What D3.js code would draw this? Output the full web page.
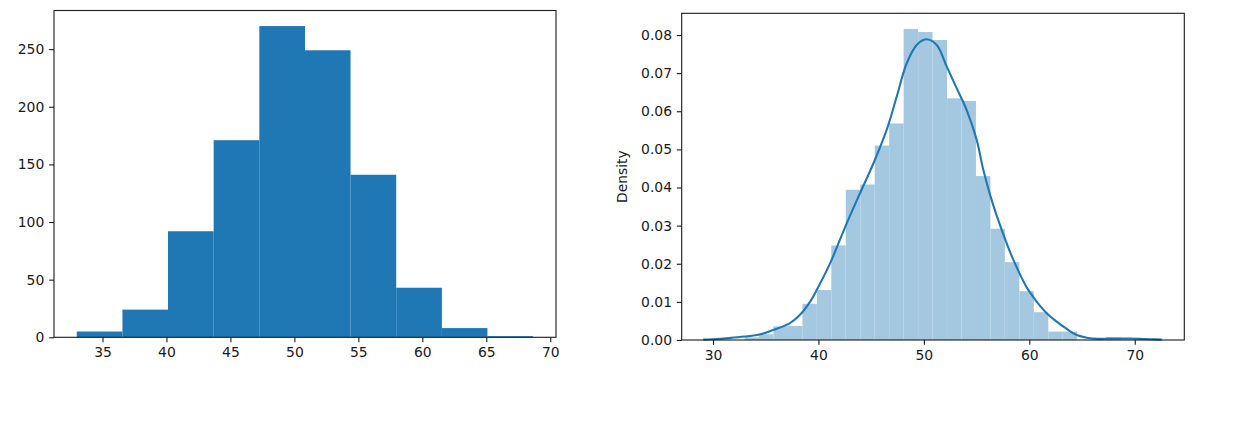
<!doctype html>
<html lang="en">
<head>
  <meta charset="utf-8">
  <script src="https://cdn.jsdelivr.net/npm/d3@7"></script>
</head>

<style>
    body {
        margin: 0;
        background-color: white;
        font-family: "DejaVu Sans", sans-serif;
    }
</style>

<body>
</body>

<script>

    // left: plain histogram, 10 bins
    const countEdges = [32.99, 36.56, 40.12, 43.69, 47.26, 50.83, 54.39, 57.96, 61.53, 65.09, 68.66]
    const counts = [5, 24, 92, 171, 270, 249, 141, 43, 8, 1]
    const countXTicks = [35, 40, 45, 50, 55, 60, 65, 70]
    const countYTicks = [0, 50, 100, 150, 200, 250]

    // right: density histogram (26 bins) + kde
    const densEdges = [32.99, 34.36, 35.73, 37.11, 38.48, 39.85, 41.22, 42.59, 43.97, 45.34, 46.71,
        48.08, 49.45, 50.82, 52.20, 53.57, 54.94, 56.31, 57.68, 59.06, 60.43, 61.80, 63.17,
        64.54, 65.91, 67.29, 68.66]
    const densities = [0.0007, 0.0015, 0.0036, 0.0037, 0.0095, 0.0131, 0.0248, 0.0394, 0.0408,
        0.0510, 0.0568, 0.0816, 0.0808, 0.0787, 0.0634, 0.0627, 0.0430, 0.0292, 0.0204,
        0.0128, 0.0073, 0.0022, 0.0022, 0, 0, 0.0007]
    const kdeX = [29.08, 30.0, 31.5, 33.0, 34.5, 35.7, 37.3, 38.25, 39.2, 39.83, 41.1, 42.68,
        43.94, 45.21, 46.47, 47.42, 48.37, 49.32, 50.2, 51.22, 52.17, 53.12, 54.06, 55.01,
        55.64, 56.43, 57.38, 58.49, 59.75, 60.5, 61.0, 61.65, 62.5, 63.55, 64.5, 65.45, 66.5,
        67.5, 68.5, 69.5, 70.5, 71.5, 72.56]
    const kdeY = [0.0001, 0.0002, 0.0005, 0.0009, 0.0015, 0.0026, 0.0044, 0.0066, 0.0100, 0.0131,
        0.0201, 0.0306, 0.0385, 0.0463, 0.0551, 0.0638, 0.0726, 0.0774, 0.0789, 0.0774,
        0.0717, 0.0660, 0.0603, 0.0525, 0.0446, 0.0367, 0.0289, 0.0210, 0.0138, 0.0108,
        0.0090, 0.0070, 0.0050, 0.0029, 0.0013, 0.0006, 0.0003, 0.0004, 0.0004, 0.0004,
        0.0003, 0.0002, 0.0001]
    const densXTicks = [30, 40, 50, 60, 70]
    const densYTicks = [0, 0.01, 0.02, 0.03, 0.04, 0.05, 0.06, 0.07, 0.08]

    const blue = '#1f77b4'
    const lightBlue = '#a5c8e1'
    const fontSize = 13.9     // 10pt at 100 dpi
    const tickLen = 4.86
    const spineW = 1.1
    const inkColor = '#1a1a1a'

    let svg = d3.select('body')
        .append('svg')
        .attr('width', 1248)
        .attr('height', 426)

    let drawAxes = (g, x, y, xTicks, yTicks, yFmt) => {
        let [x0, x1] = x.range()
        let [y0, y1] = y.range()

        g.append('g')
            .attr('transform', 'translate(0,' + y0 + ')')
            .call(d3.axisBottom(x).tickValues(xTicks).tickSize(tickLen).tickPadding(tickLen).tickFormat(d3.format('d')))
            .call(a => a.select('.domain').remove())

        g.append('g')
            .attr('transform', 'translate(' + x0 + ',0)')
            .call(d3.axisLeft(y).tickValues(yTicks).tickSize(tickLen).tickPadding(tickLen).tickFormat(yFmt))
            .call(a => a.select('.domain').remove())

        g.selectAll('.tick line').attr('stroke', inkColor).attr('stroke-width', spineW)
        g.selectAll('.tick text')
            .attr('font-family', '"DejaVu Sans", sans-serif')
            .attr('font-size', fontSize)
            .attr('fill', inkColor)

        g.append('rect')
            .attr('x', x0)
            .attr('y', y1)
            .attr('width', x1 - x0)
            .attr('height', y0 - y1)
            .attr('fill', 'none')
            .attr('stroke', inkColor)
            .attr('stroke-width', spineW)
    }

    // ---- left panel
    let xL = d3.scaleLinear().domain([31.21, 70.45]).range([54, 556])
    let yL = d3.scaleLinear().domain([0, 283.5]).range([337.3, 10.5])

    let left = svg.append('g')
    left.selectAll('.bar')
        .data(counts)
        .enter()
        .append('rect')
        .attr('class', 'bar')
        .attr('x', (d, i) => xL(countEdges[i]))
        .attr('width', (d, i) => xL(countEdges[i + 1]) - xL(countEdges[i]))
        .attr('y', d => yL(d))
        .attr('height', d => yL(0) - yL(d))
        .attr('fill', blue)

    drawAxes(left, xL, yL, countXTicks, countYTicks, d3.format('d'))

    // ---- right panel
    let xR = d3.scaleLinear().domain([27.03, 74.70]).range([681.7, 1184.3])
    let yR = d3.scaleLinear().domain([0, 0.0857]).range([340, 13.3])

    let right = svg.append('g')
    right.selectAll('.bar')
        .data(densities)
        .enter()
        .append('rect')
        .attr('class', 'bar')
        .attr('x', (d, i) => xR(densEdges[i]))
        .attr('width', (d, i) => xR(densEdges[i + 1]) - xR(densEdges[i]))
        .attr('y', d => yR(d))
        .attr('height', d => yR(0) - yR(d))
        .attr('fill', lightBlue)

    let line = d3.line()
        .x(d => xR(d[0]))
        .y(d => yR(d[1]))
        .curve(d3.curveCatmullRom)

    right.append('path')
        .datum(kdeX.map((v, i) => [v, kdeY[i]]))
        .attr('d', line)
        .attr('fill', 'none')
        .attr('stroke', blue)
        .attr('stroke-width', 2.08)

    drawAxes(right, xR, yR, densXTicks, densYTicks, d3.format('.2f'))

    right.append('text')
        .attr('transform', 'translate(627,' + ((340 + 13.3) / 2) + ') rotate(-90)')
        .attr('text-anchor', 'middle')
        .attr('font-family', '"DejaVu Sans", sans-serif')
        .attr('font-size', fontSize)
        .attr('fill', inkColor)
        .text('Density')

</script>

</html>
